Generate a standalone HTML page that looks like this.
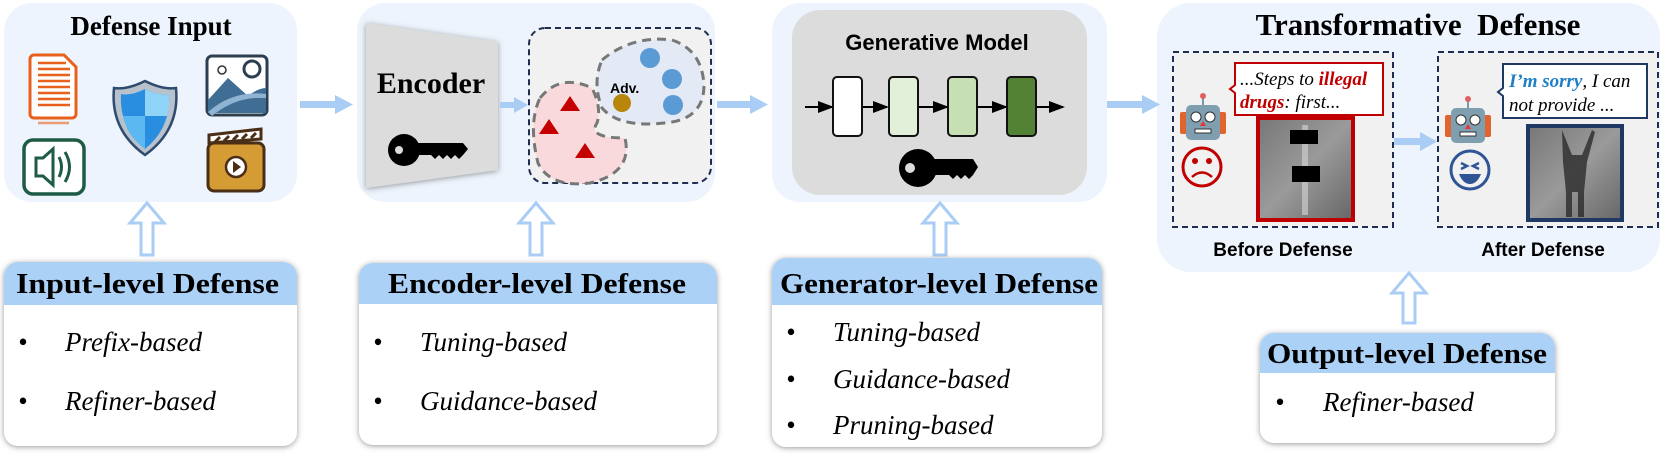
<!DOCTYPE html>
<html><head><meta charset="utf-8"><style>
html,body{margin:0;padding:0;background:#fff;}
svg{display:block;}
.h{font-family:"Liberation Serif",serif;font-weight:bold;font-size:28px;fill:#000;}
.it{font-family:"Liberation Serif",serif;font-style:italic;font-size:27px;fill:#000;}
.s{font-family:"Liberation Sans","DejaVu Sans",sans-serif;font-weight:bold;}
</style></head><body>
<svg width="1660" height="454" viewBox="0 0 1660 454" xmlns="http://www.w3.org/2000/svg">
<defs>
<filter id="sh" x="-5%" y="-5%" width="110%" height="115%"><feDropShadow dx="0" dy="1" stdDeviation="3" flood-color="#555" flood-opacity="0.6"/></filter>
<marker id="ah" markerWidth="8" markerHeight="8" refX="7" refY="4" orient="auto"><path d="M0,1 L8,4 L0,7z" fill="#000"/></marker>
</defs>
<rect x="4" y="3" width="293" height="199" rx="28" fill="#edf4fd"/>
<rect x="357" y="3" width="358" height="199" rx="28" fill="#edf4fd"/>
<rect x="772" y="3" width="335" height="199" rx="28" fill="#edf4fd"/>
<rect x="1157" y="3" width="503" height="269" rx="34" fill="#edf4fd"/>

<text x="151" y="35" text-anchor="middle" class="h" style="font-size:27px">Defense Input</text>
<g>
<path d="M34,55 h30 l12,12 v47 a4,4 0 0 1 -4,4 h-38 a4,4 0 0 1 -4,-4 v-55 a4,4 0 0 1 4,-4z" fill="#fff" stroke="#e8601c" stroke-width="3"/>
<g stroke="#e8601c" stroke-width="2.5">
<line x1="38" y1="63" x2="66" y2="63"/><line x1="38" y1="69" x2="70" y2="69"/><line x1="38" y1="75" x2="70" y2="75"/><line x1="38" y1="81" x2="70" y2="81"/><line x1="38" y1="87" x2="70" y2="87"/><line x1="38" y1="93" x2="70" y2="93"/><line x1="38" y1="99" x2="70" y2="99"/><line x1="38" y1="105" x2="70" y2="105"/>
<line x1="38" y1="123" x2="69" y2="123" stroke-opacity="0.6"/>
</g>
<rect x="24" y="140" width="60" height="54" rx="9" fill="#fff" stroke="#1d5b45" stroke-width="3.5"/>
<path d="M36,158 h7 l10,-9 v36 l-10,-9 h-7z" fill="none" stroke="#1d5b45" stroke-width="3"/>
<path d="M59,157 q5,10 0,20 M65,152 q9,15 0,30" fill="none" stroke="#1d5b45" stroke-width="3"/>
<path d="M145,81 q18,9 31,7 q4,42 -31,67 q-35,-25 -31,-67 q13,2 31,-7z" fill="#b8c2cc" stroke="#2f4b6e" stroke-width="2.5"/>
<path d="M145,89 q14,7 24,5 q2,34 -24,55 q-26,-21 -24,-55 q10,2 24,-5z" fill="#2a8ee0"/>
<path d="M145,89 q14,7 24,5 q1,12 -2,22 h-22z" fill="#8fd3f7"/>
<path d="M145,116 h-22 q4,20 22,33z" fill="#5bb8f0"/>
<rect x="207" y="56" width="60" height="59" rx="5" fill="#fff" stroke="#2c3e50" stroke-width="3"/>
<path d="M208,100 l20,-22 l20,18 q10,-8 18,-8 v25 h-58z" fill="#3f6d93"/>
<path d="M208,112 q25,-22 58,-18 v4 q-30,-2 -54,18z" fill="#8fb3d3"/>
<circle cx="222" cy="70" r="4" fill="none" stroke="#333" stroke-width="1.5"/>
<circle cx="252" cy="69" r="8" fill="none" stroke="#2c3e50" stroke-width="3"/>
<rect x="208" y="143" width="56" height="48" rx="6" fill="#d59b34" stroke="#4b2e16" stroke-width="3"/>
<path d="M209,135 l52,-6 v10 l-52,4z" fill="#fff" stroke="#4b2e16" stroke-width="3"/>
<path d="M215,142 l5,-5 M224,141 l5,-5 M233,140 l5,-5 M242,139 l5,-5 M251,138 l5,-5" stroke="#4b2e16" stroke-width="3"/>
<circle cx="236" cy="167" r="10" fill="#fff" stroke="#4b2e16" stroke-width="2.5"/>
<path d="M233,161 l8,6 l-8,6z" fill="#4b2e16"/>
</g>

<path d="M366,23 L498,42 L498,170 L366,188z" fill="#dcdcdc" filter="url(#sh)"/>
<text x="431" y="93" text-anchor="middle" class="h" style="font-size:30px">Encoder</text>
<g fill="#000"><circle cx="404" cy="150" r="16"/><path d="M415,143 h48 l5,6 l-5,6 l-4,4 l-4,-4 l-4,4 l-4,-4 l-4,4 l-4,-4 l-4,4 l-4,-4 h-16z"/></g>
<circle cx="399" cy="150" r="4" fill="#dcdcdc"/>
<rect x="529" y="28" width="182" height="155" rx="16" fill="#f1f1f1" stroke="#1f2d50" stroke-width="2" stroke-dasharray="6,4"/>
<path d="M540,98 q20,-25 52,-10 q10,20 5,35 q-10,15 28,15 q8,35 -35,45 q-40,5 -52,-20 q-10,-40 2,-65z" fill="#f9d9dc" stroke="#777" stroke-width="3" stroke-dasharray="9,6"/>
<path d="M602,60 q30,-25 70,-20 q30,10 32,45 q0,35 -40,38 q-45,5 -62,-15 q-10,-25 0,-48z" fill="#e3e9f5" stroke="#777" stroke-width="3" stroke-dasharray="9,6"/>
<path d="M570,96 l10,15 h-20z M549,119 l10,15 h-20z M585,143 l10,15 h-20z" fill="#c50000"/>
<text x="610" y="93" class="s" style="font-size:14px">Adv.</text>
<circle cx="622" cy="103" r="9" fill="#b8860b"/>
<circle cx="650" cy="58" r="10" fill="#5a9bd5"/><circle cx="672" cy="79" r="10" fill="#5a9bd5"/><circle cx="673" cy="105" r="10" fill="#5a9bd5"/>

<rect x="792" y="10" width="295" height="185" rx="28" fill="#dcdcdc"/>
<text x="937" y="50" text-anchor="middle" class="s" style="font-size:22px">Generative Model</text>
<g stroke="#000" stroke-width="2" marker-end="url(#ah)">
<line x1="805" y1="107" x2="832" y2="107"/><line x1="862" y1="107" x2="887" y2="107"/><line x1="918" y1="107" x2="947" y2="107"/><line x1="978" y1="107" x2="1006" y2="107"/><line x1="1036" y1="107" x2="1063" y2="107"/>
</g>
<rect x="833" y="77" width="29" height="59" rx="4" fill="#fff" stroke="#111" stroke-width="2"/>
<rect x="889" y="77" width="29" height="59" rx="4" fill="#e2efd9" stroke="#111" stroke-width="2"/>
<rect x="948" y="77" width="29" height="59" rx="4" fill="#c6e0b4" stroke="#111" stroke-width="2"/>
<rect x="1007" y="77" width="29" height="59" rx="4" fill="#548235" stroke="#111" stroke-width="2"/>
<g fill="#000"><circle cx="918" cy="168" r="19"/><path d="M930,159 h43 l5,8 l-5,8 l-4,4 l-4,-4 l-4,4 l-4,-4 l-4,4 l-4,-4 h-19z"/></g>
<circle cx="910" cy="168" r="5" fill="#dcdcdc"/>

<text x="1418" y="35" text-anchor="middle" class="h" style="font-size:31px">Transformative&#160; Defense</text>
<rect x="1173" y="52" width="220" height="175" fill="#f1f1f1" stroke="#1f2d50" stroke-width="2" stroke-dasharray="6,4"/>
<rect x="1438" y="52" width="220" height="175" fill="#f1f1f1" stroke="#1f2d50" stroke-width="2" stroke-dasharray="6,4"/>
<g id="rb">
<line x1="1203" y1="98" x2="1203" y2="106" stroke="#7a99a8" stroke-width="2"/><circle cx="1203" cy="96" r="3" fill="#e06060"/>
<rect x="1180" y="112" width="8" height="22" rx="2" fill="#e0642d"/><rect x="1218" y="112" width="8" height="22" rx="2" fill="#e0642d"/>
<rect x="1186" y="105" width="34" height="35" rx="5" fill="#7f9fb0"/>
<circle cx="1196" cy="117" r="5" fill="#fff" stroke="#333"/><circle cx="1210" cy="117" r="5" fill="#fff" stroke="#333"/>
<path d="M1203,121 l3,5 h-6z" fill="#e33"/><rect x="1195" y="129" width="16" height="4" fill="#fff" stroke="#333" stroke-width="1"/>
</g>
<use href="#rb" x="265" y="3"/>
<circle cx="1202" cy="167" r="19" fill="none" stroke="#c00000" stroke-width="3"/>
<circle cx="1195" cy="161" r="3" fill="#c00000"/><circle cx="1209" cy="161" r="3" fill="#c00000"/>
<path d="M1192,177 q10,-9 20,0" fill="none" stroke="#c00000" stroke-width="2.5"/>
<circle cx="1470" cy="170" r="19" fill="none" stroke="#2f5597" stroke-width="3"/>
<path d="M1461,163 l6,3 l-6,3 M1479,163 l-6,3 l6,3" fill="none" stroke="#2f5597" stroke-width="2.5"/>
<path d="M1459,174 h22 q-4,10 -11,10 q-7,0 -11,-10z" fill="#2f5597"/>
<path d="M1235,63 h148 v52 h-148 v-22 l-5,-4 l5,-4z" fill="#fff" stroke="#c00000" stroke-width="2"/>
<text x="1240" y="85" style="font-family:'Liberation Serif',serif;font-style:italic;font-size:19px">...Steps to <tspan fill="#c00000" font-weight="bold">illegal</tspan></text>
<text x="1240" y="108" style="font-family:'Liberation Serif',serif;font-style:italic;font-size:19px"><tspan fill="#c00000" font-weight="bold">drugs</tspan>: first...</text>
<path d="M1503,64 h144 v54 h-144 v-22 l-5,-4 l5,-4z" fill="#fff" stroke="#1f3864" stroke-width="2"/>
<text x="1509" y="87" style="font-family:'Liberation Serif',serif;font-style:italic;font-size:19px"><tspan fill="#1f7fc6" font-weight="bold">I’m sorry</tspan>, I can</text>
<text x="1509" y="111" style="font-family:'Liberation Serif',serif;font-style:italic;font-size:19px">not provide ...</text>
<defs><linearGradient id="ph" x1="0" y1="0" x2="1" y2="1"><stop offset="0" stop-color="#777"/><stop offset="0.5" stop-color="#9a9a9a"/><stop offset="1" stop-color="#666"/></linearGradient></defs>
<rect x="1258" y="118" width="95" height="102" fill="url(#ph)" stroke="#c00000" stroke-width="4"/>
<path d="M1302,125 v90 h6 v-90z" fill="#ccc" opacity="0.7"/>
<rect x="1290" y="130" width="28" height="14" fill="#000"/><rect x="1292" y="166" width="28" height="16" fill="#000"/>
<rect x="1528" y="126" width="94" height="94" fill="url(#ph)" stroke="#1f3864" stroke-width="4"/>
<path d="M1562,130 l10,25 l10,0 l10,-25 l3,2 l-8,30 l-3,30 v25 h-6 v-25 h-6 v25 h-6 v-25 l-3,-30 z" fill="#2a2a2a" opacity="0.8"/>
<text x="1283" y="256" text-anchor="middle" class="s" style="font-size:19px">Before Defense</text>
<text x="1543" y="256" text-anchor="middle" class="s" style="font-size:19px">After Defense</text>

<g fill="#a9cdf4">
<rect x="300" y="101" width="36" height="7"/><path d="M335,95 L353,104.5 L335,114z"/>
<rect x="500" y="102" width="16" height="6"/><path d="M514,97 L528,105 L514,113z"/>
<rect x="717" y="101" width="34" height="7"/><path d="M750,95 L768,104.5 L750,114z"/>
<rect x="1107" y="101" width="36" height="7"/><path d="M1142,95 L1160,104.5 L1142,114z"/>
<rect x="1394" y="138" width="28" height="7"/><path d="M1420,132 L1437,141.5 L1420,151z"/>
</g>
<g fill="#fff" stroke="#a9cdf4" stroke-width="3">
<path d="M141,255 v-32 h-11 l17,-20 l17,20 h-11 v32z"/>
<path d="M530,255 v-32 h-11 l17,-20 l17,20 h-11 v32z"/>
<path d="M934,255 v-32 h-11 l17,-20 l17,20 h-11 v32z"/>
<path d="M1403,323 v-30 h-11 l17,-20 l17,20 h-11 v30z"/>
</g>

<g filter="url(#sh)">
<rect x="4" y="262" width="293" height="184" rx="14" fill="#fff"/>
<rect x="359" y="263" width="358" height="182" rx="14" fill="#fff"/>
<rect x="772" y="258" width="330" height="189" rx="14" fill="#fff"/>
<rect x="1260" y="333" width="295" height="110" rx="14" fill="#fff"/>
</g>
<path d="M4,305 v-29 a14,14 0 0 1 14,-14 h265 a14,14 0 0 1 14,14 v29z" fill="#acd1f7"/>
<path d="M359,304 v-27 a14,14 0 0 1 14,-14 h330 a14,14 0 0 1 14,14 v27z" fill="#acd1f7"/>
<path d="M772,305 v-33 a14,14 0 0 1 14,-14 h302 a14,14 0 0 1 14,14 v33z" fill="#acd1f7"/>
<path d="M1260,373 v-26 a14,14 0 0 1 14,-14 h267 a14,14 0 0 1 14,14 v26z" fill="#acd1f7"/>
<text x="16" y="293" class="h" textLength="263" lengthAdjust="spacingAndGlyphs">Input-level Defense</text>
<text x="388" y="293" class="h" textLength="298" lengthAdjust="spacingAndGlyphs">Encoder-level Defense</text>
<text x="780" y="293" class="h" textLength="318" lengthAdjust="spacingAndGlyphs">Generator-level Defense</text>
<text x="1267" y="363" class="h" textLength="280" lengthAdjust="spacingAndGlyphs">Output-level Defense</text>
<g class="it">
<text x="18" y="351">•</text><text x="65" y="351">Prefix-based</text>
<text x="18" y="410">•</text><text x="65" y="410">Refiner-based</text>
<text x="373" y="351">•</text><text x="420" y="351">Tuning-based</text>
<text x="373" y="410">•</text><text x="420" y="410">Guidance-based</text>
<text x="786" y="341">•</text><text x="833" y="341">Tuning-based</text>
<text x="786" y="388">•</text><text x="833" y="388">Guidance-based</text>
<text x="786" y="434">•</text><text x="833" y="434">Pruning-based</text>
<text x="1275" y="411">•</text><text x="1323" y="411">Refiner-based</text>
</g>
</svg>
</body></html>
